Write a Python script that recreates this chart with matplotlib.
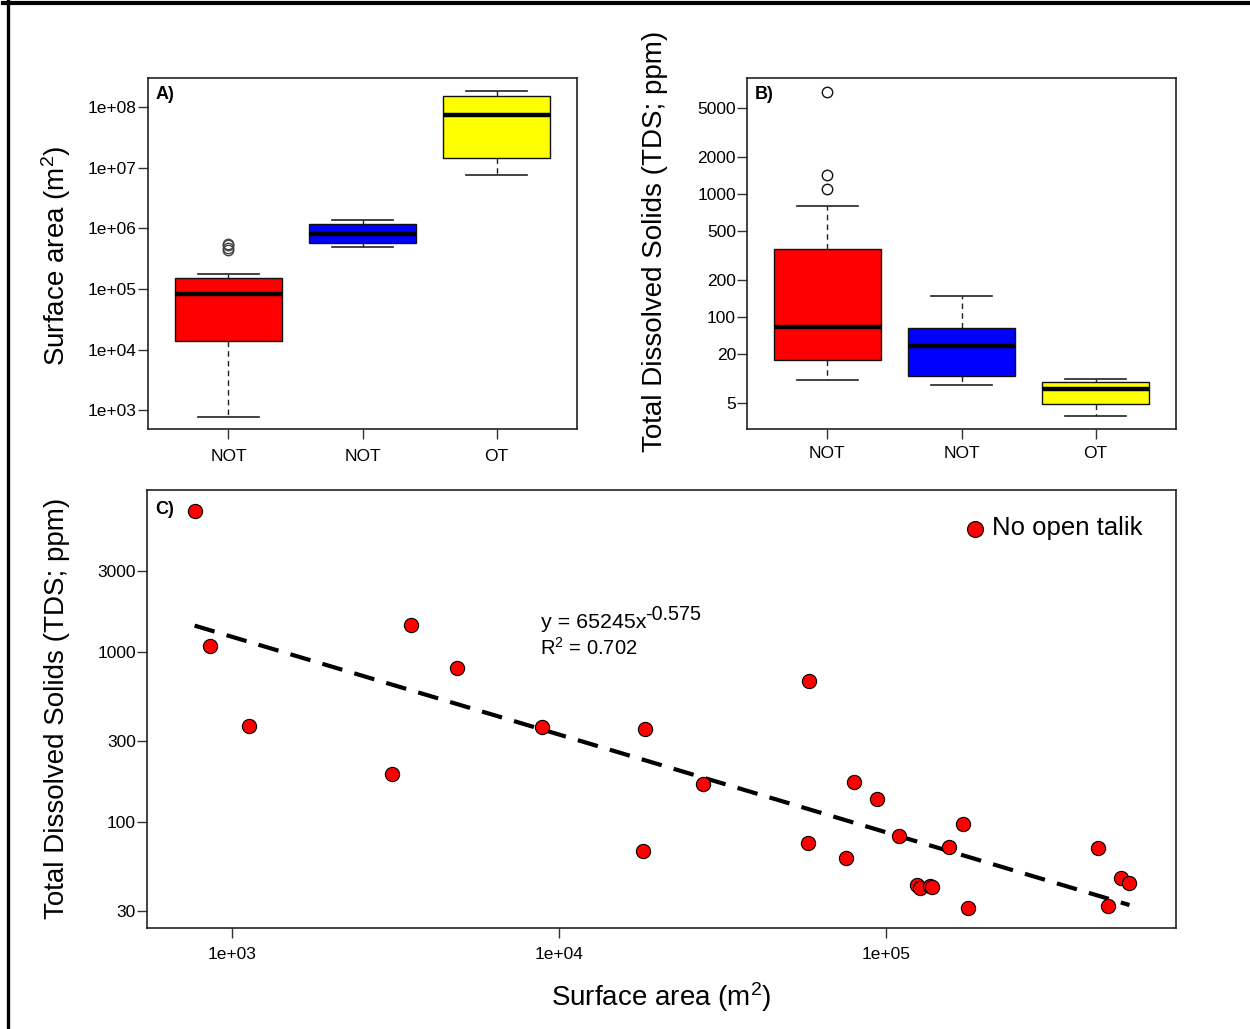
import numpy as np
import matplotlib
matplotlib.use("Agg")
import matplotlib.pyplot as plt
from matplotlib.lines import Line2D

plt.rcParams['font.family'] = ['Liberation Sans', 'DejaVu Sans']
plt.rcParams['mathtext.fontset'] = 'custom'
plt.rcParams['mathtext.rm'] = 'Liberation Sans'
plt.rcParams['mathtext.it'] = 'Liberation Sans:italic'
plt.rcParams['mathtext.bf'] = 'Liberation Sans:bold'

# ---------------- data ----------------
categories = ['NOT', 'NOT', 'OT']
box_colors = ['#ff0000', '#0000ff', '#ffff00']

# Panel A: surface area (m2)
A_whislo = [769, 4.9e5, 7.55e6]
A_q1 = [1.38e4, 5.7e5, 1.44e7]
A_med = [8.2e4, 8.0e5, 7.4e7]
A_q3 = [1.5e5, 1.17e6, 1.52e8]
A_whishi = [1.777e5, 1.36e6, 1.84e8]
A_fliers = [[4.45e5, 4.78e5, 5.22e5, 5.55e5], [], []]
A_yticks = [1e3, 1e4, 1e5, 1e6, 1e7, 1e8]
A_yticklabels = ['1e+03', '1e+04', '1e+05', '1e+06', '1e+07', '1e+08']

# Panel B: TDS (ppm)
B_whislo = [30.7, 28, 15.7]
B_q1 = [44.7, 33, 19.6]
B_med = [83, 58, 26]
B_q3 = [357, 81.5, 29.6]
B_whishi = [801, 148, 31.3]
B_fliers = [[6800, 1430, 1090], [], []]
B_yticks = [20, 50, 100, 200, 500, 1000, 2000, 5000]
B_yticklabels = ['5', '20', '100', '200', '500', '1000', '2000', '5000']

# Panel C: scatter, no open talik
C_area = [769, 856, 1124, 3097, 3532, 4875, 8850,
          58000, 18270, 27480, 79600, 93500, 172000, 109500, 155500,
          444600, 18100, 57800, 75300, 124500, 126900, 136700, 138300,
          177700, 477500, 522500, 555000]
C_tds = [6760, 1088, 368, 192, 1438, 801, 362,
         673, 353, 168, 171, 136, 97.5, 83, 71.3,
         70.2, 67.3, 75.5, 61.2, 42.7, 40.7, 42.3, 41.3,
         31.0, 32.1, 46.7, 44.0]
fit_a = 65245
fit_b = -0.575
fit_r2 = 0.702
C_xticks = [1e3, 1e4, 1e5]
C_xticklabels = ['1e+03', '1e+04', '1e+05']
C_yticks = [30, 100, 300, 1000, 3000]
C_yticklabels = ['30', '100', '300', '1000', '3000']

# ---------------- layout ----------------
W, H = 1250, 1029
fig = plt.figure(figsize=(W / 100, H / 100), dpi=100)


def rect(l, r, t, b):
    return [l / W, 1 - b / H, (r - l) / W, (b - t) / H]


def fx(x):
    return x / W


def fy(y):
    return 1 - y / H


TICK_FS = 12.5
LABEL_FS = 20


def style_axes(ax):
    for s in ax.spines.values():
        s.set_linewidth(1.2)
        s.set_color('#222222')
    ax.tick_params(axis='both', which='major', length=7, width=1.0,
                   color='#333333', labelsize=TICK_FS, direction='out')
    ax.tick_params(axis='both', which='minor', length=0)


def draw_box(ax, whislo, q1, med, q3, whishi, fliers, flier_color):
    stats = []
    for i in range(len(categories)):
        stats.append(dict(whislo=whislo[i], q1=q1[i], med=med[i], q3=q3[i],
                          whishi=whishi[i], fliers=fliers[i], label=categories[i]))
    bp = ax.bxp(stats, positions=[1, 2, 3], widths=0.8, patch_artist=True,
                showfliers=True,
                boxprops=dict(linewidth=1.0, edgecolor='#111111'),
                medianprops=dict(color='black', linewidth=3.2, solid_capstyle='butt'),
                whiskerprops=dict(color='#222222', linewidth=1.0, linestyle=(0, (4, 3))),
                capprops=dict(color='#222222', linewidth=1.2),
                capwidths=0.45,
                flierprops=dict(marker='o', markersize=7.5, markerfacecolor='none',
                                markeredgecolor=flier_color, markeredgewidth=1.0))
    for patch, c in zip(bp['boxes'], box_colors):
        patch.set_facecolor(c)
    ax.set_xlim(0.4, 3.6)
    ax.set_xticks([1, 2, 3])
    ax.set_xticklabels(categories)


# Panel A
axA = fig.add_axes(rect(148, 577, 78, 429))
axA.set_yscale('log')
draw_box(axA, A_whislo, A_q1, A_med, A_q3, A_whishi, A_fliers, '#444444')
axA.set_ylim(490, 3.0e8)
axA.set_yticks(A_yticks)
axA.set_yticklabels(A_yticklabels)
style_axes(axA)
axA.tick_params(axis='y', pad=1)
axA.tick_params(axis='x', pad=7.5)
axA.text(0.018, 0.977, 'A)', transform=axA.transAxes, fontsize=13,
         fontweight='bold', ha='left', va='top')

# Panel B
axB = fig.add_axes(rect(747, 1176, 78, 429))
axB.set_yscale('log')
draw_box(axB, B_whislo, B_q1, B_med, B_q3, B_whishi, B_fliers, '#111111')
axB.set_ylim(12.3, 8770)
axB.set_yticks(B_yticks)
axB.set_yticklabels(B_yticklabels)
style_axes(axB)
axB.tick_params(axis='y', pad=1)
axB.tick_params(axis='x', pad=5.5)
axB.text(0.018, 0.977, 'B)', transform=axB.transAxes, fontsize=13,
         fontweight='bold', ha='left', va='top')

# Panel C
axC = fig.add_axes(rect(147, 1176, 490, 928))
axC.set_xscale('log')
axC.set_yscale('log')
axC.scatter(C_area, C_tds, s=105, c='#ff0000', edgecolors='black',
            linewidths=0.8, zorder=3, label='No open talik')
xfit = np.array([min(C_area), max(C_area)])
yfit = fit_a * xfit ** fit_b
axC.plot(xfit, yfit, color='black', linewidth=3.0, linestyle=(0, (5, 3)), zorder=2)
axC.set_xlim(550, 7.7e5)
axC.set_ylim(23.8, 8970)
axC.set_xticks(C_xticks)
axC.set_xticklabels(C_xticklabels)
axC.set_yticks(C_yticks)
axC.set_yticklabels(C_yticklabels)
style_axes(axC)
axC.tick_params(axis='y', pad=1)
axC.tick_params(axis='x', pad=6.5)
axC.text(0.008, 0.975, 'C)', transform=axC.transAxes, fontsize=13,
         fontweight='bold', ha='left', va='top')
axC.legend(loc='upper right', bbox_to_anchor=(1.0, 1.0 + 7.0 / 438),
           frameon=False, fontsize=18.5,
           handlelength=1.0, handletextpad=0.15, borderaxespad=0.9,
           markerscale=1.12)

fig.text(fx(541), fy(622), 'y = %d' % fit_a + 'x', fontsize=15.4,
         ha='left', va='center')
fig.text(fx(645), fy(615), '%.3f' % fit_b, fontsize=14.2,
         ha='left', va='center')
fig.text(fx(540), fy(648), r'R$\mathregular{^2}$ = %.3f' % fit_r2,
         fontsize=14.5, ha='left', va='center')

# axis titles
fig.text(fx(56), fy(256), r'Surface area (m$\mathregular{^2}$)', rotation=90,
         fontsize=LABEL_FS, ha='center', va='center')
fig.text(fx(655), fy(241), 'Total Dissolved Solids (TDS; ppm)', rotation=90,
         fontsize=LABEL_FS, ha='center', va='center')
fig.text(fx(57), fy(708), 'Total Dissolved Solids (TDS; ppm)', rotation=90,
         fontsize=LABEL_FS, ha='center', va='center')
fig.text(fx(661), fy(997), r'Surface area (m$\mathregular{^2}$)',
         fontsize=LABEL_FS, ha='center', va='center')

# outer frame (top and left)
fig.add_artist(Line2D([fx(3), 1], [fy(2.5), fy(2.5)], color='black', linewidth=3.0))
fig.add_artist(Line2D([fx(8), fx(8)], [fy(1), 0], color='black', linewidth=2.4))

fig.savefig('out.png', dpi=100)
